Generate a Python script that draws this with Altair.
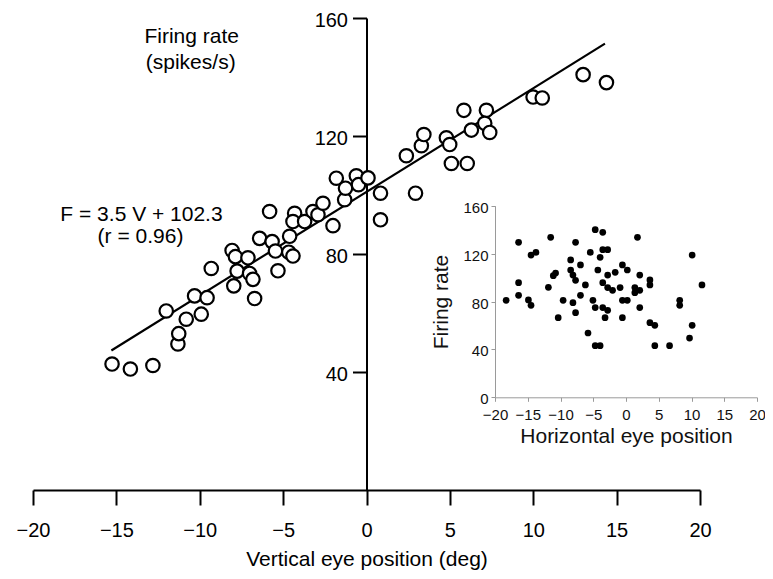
import altair as alt
import pandas as pd

# ---------------- data ----------------
vert_pos = [-15.26, -14.16, -12.81, -12.01, -11.31, -11.26, -10.81, -10.31, -9.56, -9.91,
            -9.31, -8.06, -7.86, -7.11, -7.76, -7.01, -6.81, -7.96, -6.71, -6.41,
            -5.81, -5.66, -5.46, -5.31, -4.66, -4.41, -4.61, -4.31, -4.41, -3.71,
            -3.21, -2.91, -2.61, -2.01, -1.31, -1.81, -1.26, -0.61, -0.48, 0.09,
            0.84, 0.84, 2.94, 2.39, 3.29, 3.44, 4.79, 4.99, 5.09, 6.04,
            5.84, 6.29, 7.19, 7.09, 7.39, 9.99, 10.54, 12.99, 14.39]
main_rate = [42.7, 41.0, 42.2, 60.7, 49.5, 53.0, 57.9, 65.8, 65.2, 59.6,
             75.1, 81.2, 79.1, 78.7, 74.2, 73.4, 71.4, 69.2, 64.9, 85.3,
             94.4, 84.2, 81.0, 74.3, 80.6, 79.3, 86.0, 93.8, 91.0, 91.0,
             94.4, 93.3, 97.2, 89.6, 98.4, 105.7, 102.3, 106.5, 103.5, 105.8,
             100.6, 91.6, 100.6, 113.3, 116.7, 120.5, 119.4, 117.1, 110.7, 110.7,
             128.7, 122.0, 128.7, 124.3, 121.2, 133.2, 132.9, 140.8, 138.1]

fit_x = [-15.3, 14.3]
fit_y = [47.3, 151.3]

horiz_pos = [-18.3, -16.4, -16.4, -16.4, -14.9, -14.5, -14.5, -13.75, -11.5, -11.85,
             -11.1, -10.75, -9.6, -10.35, -8.45, -8.45, -8.1, -7.7, -7.7, -8.1,
             -7.7, -6.95, -6.95, -6.2, -5.8, -5.45, -4.7, -5.05, -4.7, -4.7,
             -3.95, -4.3, -3.95, -3.55, -3.55, -2.8, -3.55, -3.55, -2.8, -2.8,
             -2.8, -3.2, -2.05, -1.65, -0.9, -0.55, -0.55, -0.55, 0.2, 0.2,
             1.75, 1.35, 1.35, 2.1, 2.1, 2.1, 3.65, 3.65, 3.65, 4.4,
             4.4, 6.65, 8.2, 8.2, 9.7, 10.1, 10.1, 11.6]
inset_rate = [81, 129.4, 95.7, 85.2, 81.3, 76.8, 118.8, 121, 133.6, 91.8,
              101.6, 103.8, 81, 66.5, 114.7, 106.3, 102.1, 97.7, 129.4, 79,
              70.7, 110.5, 85.2, 93.8, 53.7, 121, 140, 81, 74.9, 43.1,
              43.1, 106.3, 116.9, 137.8, 123.3, 123.3, 95.7, 74.9, 102.1, 91.6,
              72.6, 66.5, 89.3, 104.4, 91.6, 110.5, 81, 66.5, 106.3, 81,
              133.6, 91.6, 87.4, 102.1, 89.3, 74.9, 98, 93.8, 62.3, 60.1,
              43.1, 43.1, 81, 76.8, 49.5, 60.1, 118.8, 93.8]

main_x_ticks = [-20, -15, -10, -5, 0, 5, 10, 15, 20]
main_y_ticks = [40, 80, 120, 160]
inset_x_ticks = [-20, -15, -10, -5, 0, 5, 10, 15, 20]
inset_y_ticks = [0, 40, 80, 120, 160]

main_df = pd.DataFrame({"v": vert_pos, "r": main_rate})
fit_df = pd.DataFrame({"v": fit_x, "r": fit_y})
inset_df = pd.DataFrame({"h": horiz_pos, "r": inset_rate})

# ---------------- styling ----------------
FONT = "Liberation Sans"
W, H = 667, 472

xs = alt.Scale(domain=[-20, 20], nice=False, zero=False)
ys = alt.Scale(domain=[0, 160], nice=False, zero=False)

x_axis = alt.Axis(orient="bottom", values=main_x_ticks, title="Vertical eye position (deg)",
                  grid=False, domainColor="black", domainWidth=2, tickColor="black",
                  tickWidth=2, tickSize=15, labelFont=FONT, labelFontSize=20,
                  labelColor="black", labelPadding=15, labelFlush=False, labelOverlap=False,
                  titleFont=FONT, titleFontSize=21, titleFontWeight="normal",
                  titleColor="black", titlePadding=8)
y_axis = alt.Axis(orient="left", offset=-333.5, values=main_y_ticks, title=None,
                  grid=False, domainColor="black", domainWidth=2, tickColor="black",
                  tickWidth=2, tickSize=14, labelFont=FONT, labelFontSize=20,
                  labelColor="black", labelPadding=5, labelOffset=2.5,
                  labelFlush=False, labelOverlap=False)

fit_line = alt.Chart(fit_df).mark_line(color="black", strokeWidth=2.2).encode(
    x=alt.X("v:Q", scale=xs, axis=x_axis),
    y=alt.Y("r:Q", scale=ys, axis=y_axis),
)

pts = alt.Chart(main_df).mark_point(shape="circle", filled=True, fill="white",
                                     stroke="black", strokeWidth=2.2, size=180,
                                     opacity=1, fillOpacity=1).encode(
    x=alt.X("v:Q", scale=xs, axis=x_axis),
    y=alt.Y("r:Q", scale=ys, axis=y_axis),
)

def label(txt, px, py, size=21):
    return alt.Chart(pd.DataFrame({"t": [txt]})).mark_text(
        font=FONT, fontSize=size, color="black", align="center", baseline="middle"
    ).encode(text="t:N", x=alt.value(px), y=alt.value(py))

texts = [
    label("Firing rate", 158.7, 18.7),
    label("(spikes/s)", 157.7, 45.3),
    label("F = 3.5 V + 102.3", 108.5, 197),
    label("(r = 0.96)", 107.5, 219.3),
]

main = alt.layer(fit_line, pts, *texts)

ixs = alt.Scale(domain=[-20, 20], range=[462, 724], nice=False, zero=False)
iys = alt.Scale(domain=[0, 160], range=[379.3, 187.7], nice=False, zero=False)

inset = alt.Chart(inset_df).mark_circle(size=45, color="black", opacity=1).encode(
    x=alt.X("h:Q", scale=ixs,
            axis=alt.Axis(orient="bottom", offset=-92.7, values=inset_x_ticks,
                          title="Horizontal eye position", grid=False,
                          domainColor="#9a9a9a", domainWidth=1, tickColor="#9a9a9a",
                          tickWidth=1, tickSize=4, labelFont=FONT, labelFontSize=15,
                          labelColor="#111111", labelPadding=6, labelFlush=False,
                          labelOverlap=False, titleFont=FONT, titleFontSize=21,
                          titleFontWeight="normal", titleColor="#111111", titlePadding=3)),
    y=alt.Y("r:Q", scale=iys,
            axis=alt.Axis(orient="left", offset=-462, values=inset_y_ticks,
                          title="Firing rate", grid=False,
                          domainColor="#9a9a9a", domainWidth=1, tickColor="#9a9a9a",
                          tickWidth=1, tickSize=4, labelFont=FONT, labelFontSize=15,
                          labelColor="#111111", labelPadding=3, labelOffset=1.5,
                          labelFlush=False, labelOverlap=False, titleFont=FONT,
                          titleFontSize=21, titleFontWeight="normal",
                          titleColor="#111111", titlePadding=11)),
)

chart = alt.layer(main, inset).resolve_scale(x="independent", y="independent").properties(
    width=W, height=H,
    autosize=alt.AutoSizeParams(type="none"),
    padding={"left": 25, "top": 10, "right": 65, "bottom": 81},
    background="white",
).configure_view(strokeWidth=0)

chart.save("out.html", embed_options={"renderer": "svg", "actions": False})
